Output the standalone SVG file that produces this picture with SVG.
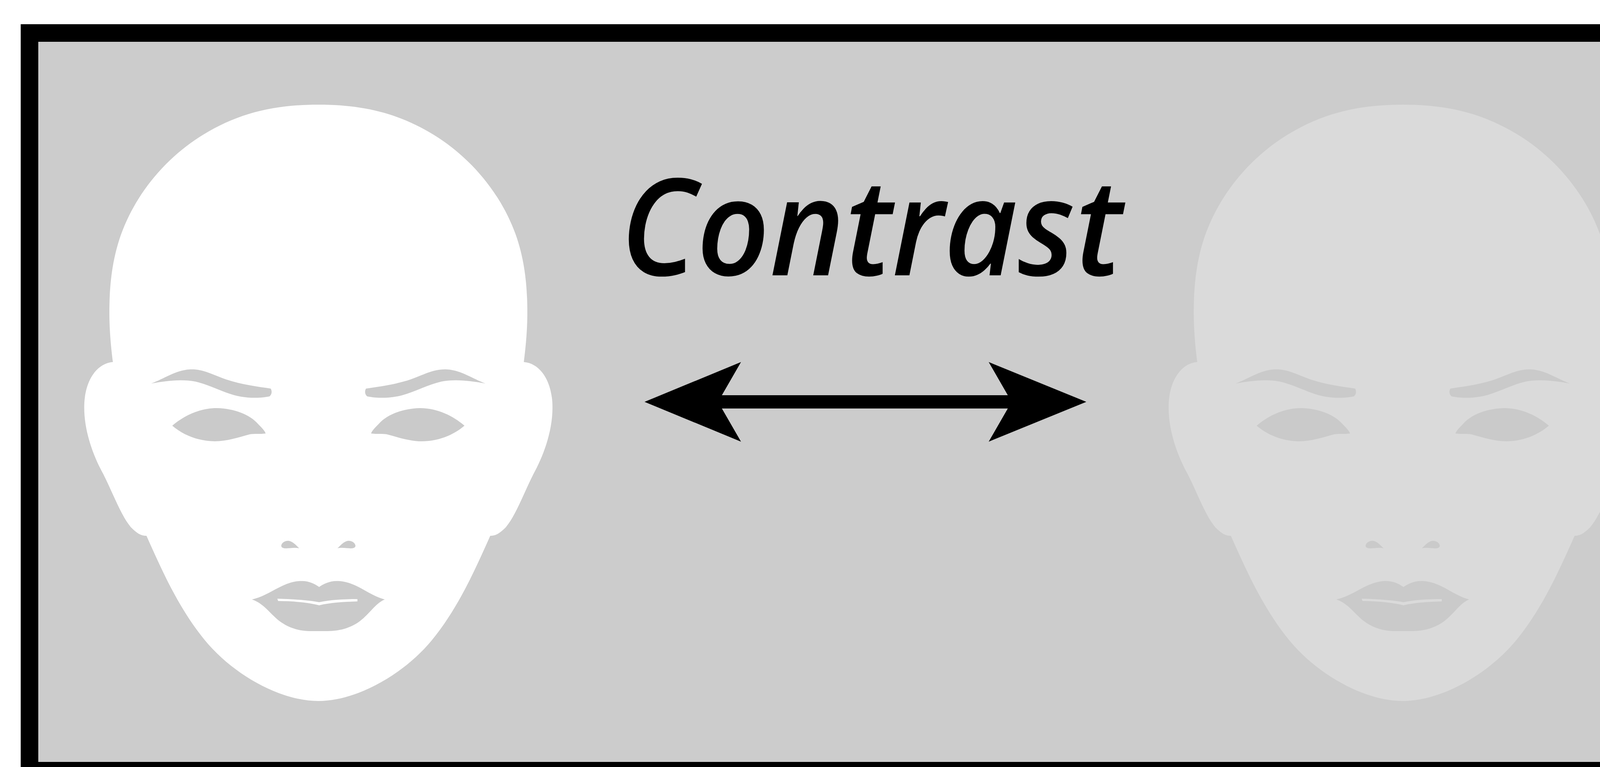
<svg xmlns="http://www.w3.org/2000/svg" xmlns:xlink="http://www.w3.org/1999/xlink" width="4335" height="1964" viewBox="0 0 4335 1964">
<style>
.feat{fill:#cacaca}
.label{font-family:"Open Sans","Noto Sans","DejaVu Sans",sans-serif;font-style:italic;font-weight:600;font-size:345px;fill:#000}
.arrow{fill:#000}
</style>
<defs>
<g id="face">
<path d="M815,268 C700,268 610,290 520,345 C430,400 350,490 310,600 C285,670 280,740 280,800 C280,850 285,895 289,927 C250,930 220,970 216,1030 C212,1100 240,1170 265,1215 C290,1265 310,1320 335,1350 C350,1365 360,1372 375,1372 C410,1450 455,1555 525,1640 C595,1725 715,1795 815,1795 C915,1795 1035,1725 1105,1640 C1175,1555 1220,1450 1255,1372 C1270,1372 1280,1365 1295,1350 C1320,1320 1340,1265 1365,1215 C1390,1170 1418,1100 1414,1030 C1410,970 1380,930 1341,927 C1345,895 1350,850 1350,800 C1350,740 1345,670 1320,600 C1280,490 1200,400 1110,345 C1020,290 930,268 815,268 Z"/>
<g id="half">
<path class="feat" d="M387,982 C420,970 450,948 485,946 C520,944 545,960 580,972 C620,985 660,990 693,995 C697,1002 696,1010 690,1015 C660,1021 625,1019 600,1012 C565,1002 535,985 500,977 C465,970 425,975 387,982 Z"/>
<path class="feat" d="M441,1090 C470,1065 510,1045 555,1045 C600,1046 640,1062 660,1085 C670,1095 678,1103 680,1110 C665,1112 650,1110 640,1112 C610,1120 580,1130 550,1130 C510,1130 470,1115 441,1090 Z"/>
<path class="feat" d="M720,1397 C722,1388 732,1384 740,1385 C750,1387 758,1396 766,1404 C752,1401 740,1405 728,1404 C723,1403 720,1401 720,1397 Z"/>
</g>
<use xlink:href="#half" href="#half" transform="translate(1630,0) scale(-1,1)"/>
<path class="feat" d="M645,1535 C690,1525 720,1492 765,1488 C790,1486 805,1495 817,1503 C829,1495 845,1486 870,1488 C915,1492 945,1525 985,1535 C960,1545 945,1575 915,1595 C890,1610 870,1615 840,1616 L790,1616 C760,1615 735,1605 715,1590 C690,1570 675,1545 645,1535 Z"/>
<path d="M710,1533 C750,1534 790,1537 817,1542 C845,1536 880,1534 915,1534 L915,1540 C880,1541 845,1543 817,1550 C790,1543 750,1539 712,1539 Z"/>
</g>
</defs>
<rect x="53" y="62" width="4320" height="1940" fill="#000"/>
<rect x="98" y="107" width="4233" height="1844" fill="#cccccc"/>
<g id="face-left">
<use xlink:href="#face" href="#face" fill="#ffffff"/>
</g>
<g id="face-right">
<use xlink:href="#face" href="#face" fill="#dadada" transform="translate(2776,0)"/>
</g>
<g id="label-contrast">
<text class="label" x="1588" y="705" textLength="1285" lengthAdjust="spacingAndGlyphs">Contrast</text>
</g>
<g id="connectors">
<path class="arrow" d="M1650,1029 L1897,927 L1848,1012 L2580,1012 L2531,927 L2781,1029 L2531,1131 L2580,1046 L1848,1046 L1897,1131 Z"/>
</g>
</svg>
